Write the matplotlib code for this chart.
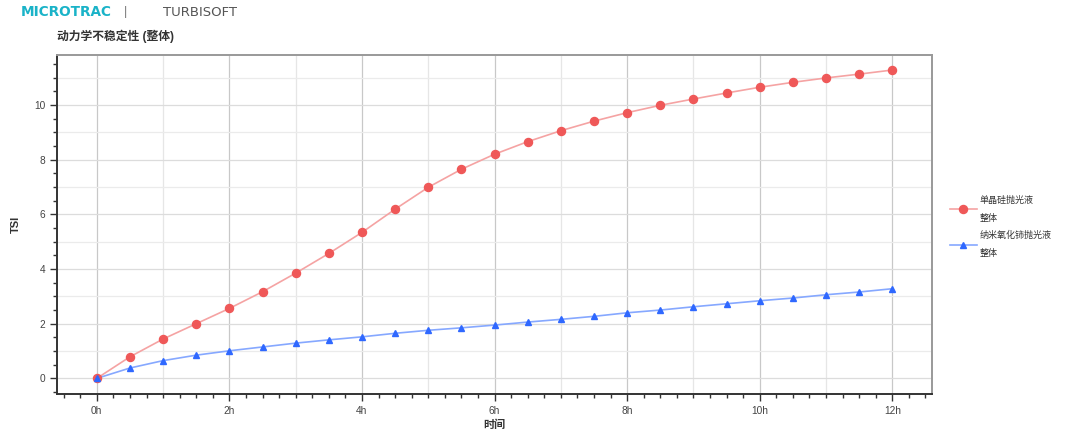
import matplotlib
matplotlib.use("Agg")
import matplotlib.pyplot as plt
from matplotlib.ticker import MultipleLocator, FuncFormatter

plt.rcParams['font.family'] = ['Liberation Sans', 'Noto Sans CJK SC', 'DejaVu Sans']

# time points (h)
hours = [0, 0.5, 1, 1.5, 2, 2.5, 3, 3.5, 4, 4.5, 5, 5.5, 6, 6.5,
         7, 7.5, 8, 8.5, 9, 9.5, 10, 10.5, 11, 11.5, 12]

# TSI values
tsi_silicon = [0, 0.79, 1.44, 2.0, 2.56, 3.17, 3.85, 4.57, 5.34, 6.19,
               6.99, 7.65, 8.20, 8.66, 9.06, 9.41, 9.72, 9.99, 10.22,
               10.44, 10.65, 10.83, 10.99, 11.13, 11.28]
tsi_ceria = [0, 0.38, 0.65, 0.85, 1.01, 1.15, 1.29, 1.41, 1.52, 1.65,
             1.76, 1.85, 1.95, 2.06, 2.16, 2.27, 2.40, 2.50, 2.62,
             2.73, 2.84, 2.94, 3.06, 3.16, 3.28]

series_names = ['单晶硅抛光液\n整体', '纳米氧化铈抛光液\n整体']
title = '动力学不稳定性 (整体)'

fig = plt.figure(figsize=(10.8, 4.32), dpi=100)
ax = fig.add_axes([0.0528, 0.088, 0.8102, 0.7847])

red_line, red_dot = '#f5a3a3', '#ef5858'
blue_line, blue_dot = '#86a8ff', '#2f68ff'

ax.plot(hours, tsi_silicon, '-', color=red_line, lw=1.2, zorder=3)
ax.plot(hours, tsi_silicon, 'o', color=red_dot, ms=5.8, zorder=4)
ax.plot(hours, tsi_ceria, '-', color=blue_line, lw=1.2, zorder=3)
ax.plot(hours, tsi_ceria, '^', color=blue_dot, ms=5, zorder=4)

# legend entries (line + marker combined)
h1, = ax.plot([], [], '-o', color=red_line, ms=5.8, lw=1.2,
              mfc=red_dot, mec=red_dot)
h2, = ax.plot([], [], '-^', color=blue_line, ms=5, lw=1.2,
              mfc=blue_dot, mec=blue_dot)
leg = fig.legend([h1, h2], series_names, loc='center left',
                 bbox_to_anchor=(0.872, 0.475), frameon=False,
                 fontsize=6.5, handlelength=3.0, labelspacing=0.9,
                 handletextpad=0.3)
for t in leg.get_texts():
    t.set_color('#333333')
    t.set_linespacing(2.3)

ax.set_xlim(-0.6, 12.6)
ax.set_ylim(-0.57, 11.83)

ax.xaxis.set_major_locator(MultipleLocator(2))
ax.xaxis.set_minor_locator(MultipleLocator(0.25))
ax.xaxis.set_major_formatter(FuncFormatter(lambda v, p: f'{v:.0f}h'))
ax.yaxis.set_major_locator(MultipleLocator(2))
ax.yaxis.set_minor_locator(MultipleLocator(0.5))

ax.tick_params(axis='both', which='major', length=5, width=1, colors='#333333',
               labelsize=7.3, labelcolor='#444444')
ax.tick_params(axis='both', which='minor', length=3, width=1, colors='#333333')

# grid: every 1 unit, even values darker
for v in range(0, 13):
    ax.axvline(v, color='#c8c8c8' if v % 2 == 0 else '#e6e6e6', lw=0.9, zorder=1)
for v in range(0, 12):
    ax.axhline(v, color='#dcdcdc' if v % 2 == 0 else '#ebebeb', lw=0.9, zorder=1)

for s in ['left', 'bottom']:
    ax.spines[s].set_color('#333333')
    ax.spines[s].set_linewidth(1.4)
for s in ['top', 'right']:
    ax.spines[s].set_color('#999999')
    ax.spines[s].set_linewidth(1.4)

ax.set_xlabel('时间', fontsize=8, fontweight='bold', color='#333333', labelpad=3)
ax.set_ylabel('TSI', fontsize=8, fontweight='bold', color='#333333')
ax.yaxis.set_label_coords(-0.041, 0.5)

fig.text(0.0528, 0.915, title, fontsize=8.5, fontweight='bold', color='#333333',
         va='center')

# header logo text
fig.text(0.019, 0.972, 'MICROTRAC', fontsize=9.8, fontweight='bold', color='#1ab3c8',
         va='center', family='DejaVu Sans')
fig.text(0.115, 0.972, '|', fontsize=9, color='#777777', va='center')
fig.text(0.151, 0.972, 'TURBISOFT', fontsize=9.5, color='#555555', va='center',
         family='DejaVu Sans')

fig.savefig('out.png', dpi=100)
